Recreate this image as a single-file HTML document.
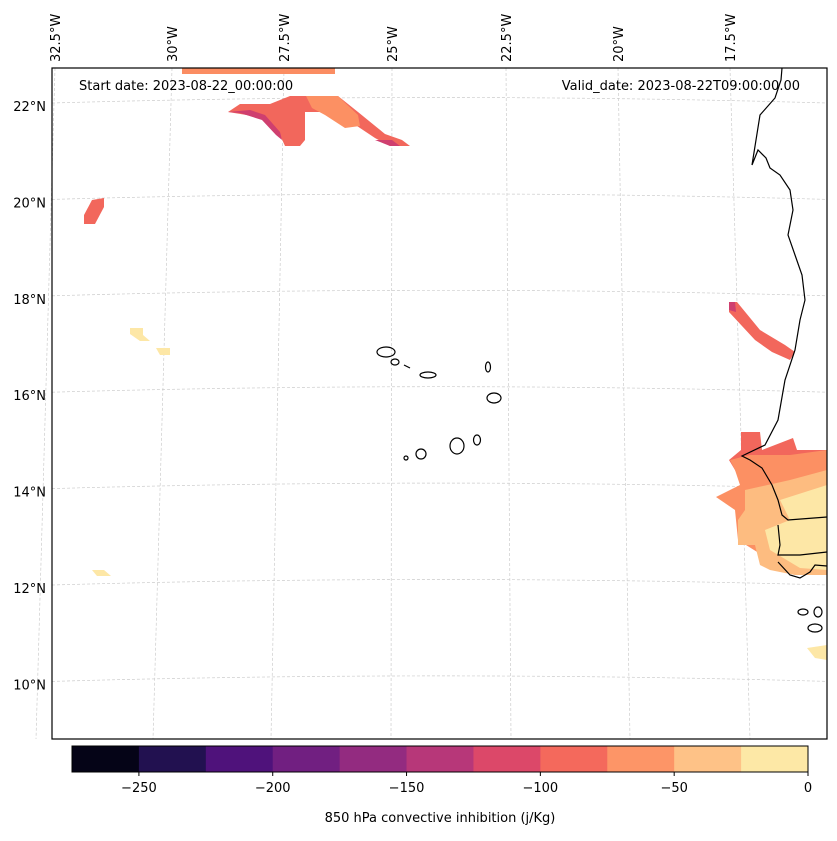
<!DOCTYPE html>
<html><head><meta charset="utf-8"><style>
body{margin:0;background:#fff;font-family:"Liberation Sans","DejaVu Sans",sans-serif}
svg text{font-family:"DejaVu Sans","Liberation Sans",sans-serif;font-size:13px;fill:#000}
</style></head><body>
<svg id="c" width="837" height="836" xmlns="http://www.w3.org/2000/svg">
<rect width="837" height="836" fill="#fff"/>
<g id="grid"></g>
<g id="fields">
<polygon points="182,68 335,68 335,74 182,74" fill="#fb8d62"/>
<polygon points="228,112 240,104 270,104 290,96 338,96 358,112 385,134 402,140 410,146 390,146 375,138 345,118 320,112 305,112 305,140 300,146 285,146 280,135 265,118" fill="#f2675c"/>
<polygon points="228,112 250,110 265,115 280,132 282,140 276,135 262,120 240,113" fill="#cf3f6f"/>
<polygon points="375,140 392,140 400,146 390,146" fill="#cf3f6f"/>
<polygon points="306,96 338,96 358,115 360,126 345,128 325,115 312,108" fill="#fc9063"/>
<polygon points="84,215 92,200 104,198 104,207 95,224 84,224" fill="#f2675c"/>
<polygon points="130,328 143,328 143,335 150,341 140,341 130,334" fill="#fde7a6"/>
<polygon points="156,348 170,348 170,355 160,355" fill="#fde7a6"/>
<polygon points="92,570 104,570 111,576 97,576" fill="#fde7a6"/>
<polygon points="729,302 737,302 760,330 785,345 795,352 790,360 772,352 755,340 729,312" fill="#f2675c"/>
<polygon points="729,302 735,302 736,312 729,310" fill="#cf3f6f"/>
<polygon points="741,432 760,432 762,450 793,438 797,450 827,450 827,520 760,520 735,470 729,460 741,450" fill="#f2675c"/>
<polygon points="730,460 750,455 790,455 827,450 827,560 770,560 738,540 735,510 716,497 740,485 735,470" fill="#fc9063"/>
<polygon points="745,490 790,480 827,470 827,575 795,575 770,570 760,565 755,545 738,545 738,520 745,510" fill="#fdbc80"/>
<polygon points="780,500 827,485 827,570 800,568 770,550 765,530 790,520" fill="#fde7a6"/>
<polygon points="807,648 827,645 827,660 815,658" fill="#fde7a6"/>
</g>
<g fill="none" stroke="#000" stroke-width="1.2">
<polyline points="782,68 781,80 775,98 760,115 752,165 758,150 766,158 770,168 780,175 790,190 793,210 788,235 795,255 802,275 805,300 800,320 795,350 785,380 778,420 765,445 742,456 750,460 762,468 772,485 778,500 782,515 788,520 827,517"/>
<polyline points="778,525 780,545 778,555 800,555 827,552"/>
<polyline points="778,562 790,575 800,578 810,572 815,565 827,566"/>
<ellipse cx="803" cy="612" rx="5" ry="3"/><ellipse cx="815" cy="628" rx="7" ry="4"/><ellipse cx="818" cy="612" rx="4" ry="5"/>
<ellipse cx="386" cy="352" rx="9" ry="5"/><ellipse cx="395" cy="362" rx="4" ry="3"/><ellipse cx="428" cy="375" rx="8" ry="3"/>
<ellipse cx="488" cy="367" rx="2.5" ry="5"/><ellipse cx="494" cy="398" rx="7" ry="5"/><ellipse cx="457" cy="446" rx="7" ry="8"/>
<ellipse cx="477" cy="440" rx="3.5" ry="5"/><ellipse cx="421" cy="454" rx="5" ry="5"/><ellipse cx="406" cy="458" rx="2" ry="2"/>
<line x1="404" y1="365" x2="410" y2="368"/>
</g>
<rect x="52" y="68" width="775" height="671" fill="none" stroke="#000" stroke-width="1.2"/>
<text x="79" y="90">Start date: 2023-08-22_00:00:00</text>
<text x="800" y="90" text-anchor="end">Valid_date: 2023-08-22T09:00:00.00</text>
<g id="cbar"></g>
<text x="440" y="822" text-anchor="middle">850 hPa convective inhibition (j/Kg)</text>
</svg>
<script>
const levels=[-275,-250,-225,-200,-175,-150,-125,-100,-75,-50,-25,0];
const colors=["#050417","#221150","#4f127b","#711f81","#932b80","#b73779","#dc4869","#f4695c","#fd9567","#fec287","#fde8a6"];
const tickVals=[-250,-200,-150,-100,-50,0];
const tickLabels=["\u2212250","\u2212200","\u2212150","\u2212100","\u221250","0"];
const lonLabels=["32.5°W","30°W","27.5°W","25°W","22.5°W","20°W","17.5°W"];
const lonTop=[55,172,284,392,506,618,730];
const latLabels=["22°N","20°N","18°N","16°N","14°N","12°N","10°N"];
const NS="http://www.w3.org/2000/svg";
const cb=document.getElementById('cbar');
const x0=72,x1=808;
const sx=v=>x0+(v-levels[0])/(levels[levels.length-1]-levels[0])*(x1-x0);
for(let i=0;i<colors.length;i++){
 const r=document.createElementNS(NS,'rect');
 r.setAttribute('x',sx(levels[i]));r.setAttribute('y',746);
 r.setAttribute('width',sx(levels[i+1])-sx(levels[i])+0.5);r.setAttribute('height',26);
 r.setAttribute('fill',colors[i]);
 
 
 cb.appendChild(r);
}
const fr=document.createElementNS(NS,'rect');
fr.setAttribute('x',x0);fr.setAttribute('y',746);fr.setAttribute('width',x1-x0);fr.setAttribute('height',26);
fr.setAttribute('fill','none');fr.setAttribute('stroke','#000');
cb.appendChild(fr);
tickVals.forEach((v,i)=>{
 const l=document.createElementNS(NS,'line');
 l.setAttribute('x1',sx(v));l.setAttribute('x2',sx(v));l.setAttribute('y1',772);l.setAttribute('y2',776);l.setAttribute('stroke','#000');
 cb.appendChild(l);
 const t=document.createElementNS(NS,'text');
 t.setAttribute('x',sx(v));t.setAttribute('y',792);t.setAttribute('text-anchor','middle');t.textContent=tickLabels[i];
 
 
 cb.appendChild(t);
});
const g=document.getElementById('grid');
const lonBot=[36,153,271,391,511,630,750];
lonLabels.forEach((s,i)=>{
 const l=document.createElementNS(NS,'line');
 l.setAttribute('x1',lonTop[i]);l.setAttribute('y1',68);l.setAttribute('x2',lonBot[i]);l.setAttribute('y2',739);
 l.setAttribute('stroke','#ccc');l.setAttribute('stroke-dasharray','3,2');l.setAttribute('stroke-width','0.7');
 g.appendChild(l);
 const t=document.createElementNS(NS,'text');
 t.setAttribute('transform',`translate(${lonTop[i]+5},62) rotate(-90)`);t.textContent=s;
 
 
 g.appendChild(t);
});
latLabels.forEach((s,i)=>{
 const y=106+i*96.4;
 const p=document.createElementNS(NS,'path');
 p.setAttribute('d',`M52 ${y-3} Q440 ${y-14} 827 ${y-3}`);
 p.setAttribute('fill','none');p.setAttribute('stroke','#ccc');p.setAttribute('stroke-dasharray','3,2');p.setAttribute('stroke-width','0.7');
 g.appendChild(p);
 const t=document.createElementNS(NS,'text');
 t.setAttribute('x',46);t.setAttribute('y',y+5);t.setAttribute('text-anchor','end');t.textContent=s;
 
 
 g.appendChild(t);
});
</script>
</body></html>
